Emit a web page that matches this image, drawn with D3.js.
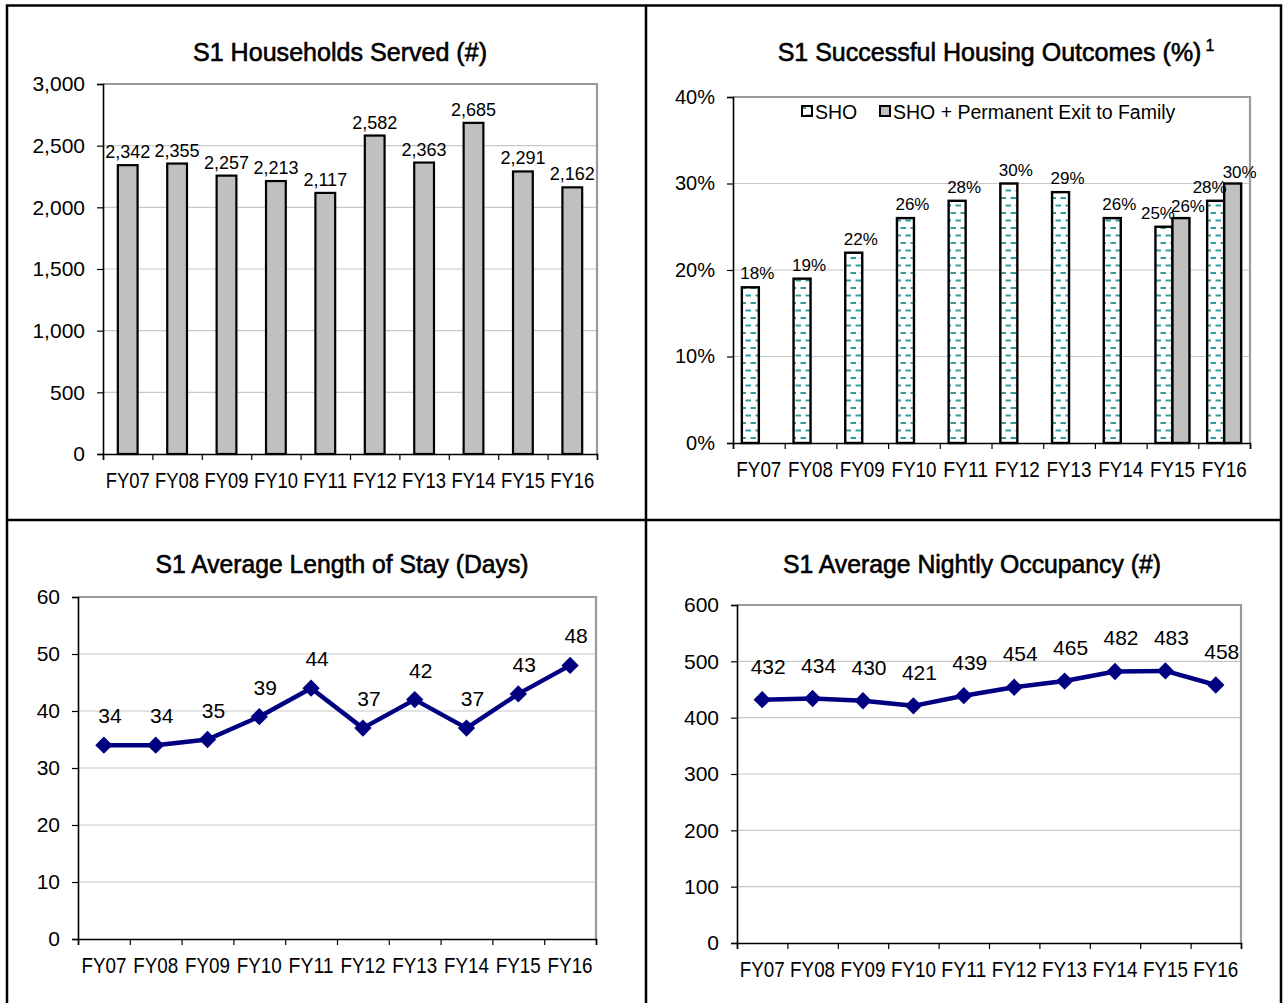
<!DOCTYPE html>
<html><head><meta charset="utf-8">
<script src="https://cdn.jsdelivr.net/npm/d3@7"></script>
<style>
body{margin:0;background:#fff;}
svg{display:block;}
.title{font-family:"Liberation Sans",sans-serif;font-size:25px;fill:#000;stroke:#000;stroke-width:0.6px;}
.tick text{font-family:"Liberation Sans",sans-serif;}
</style></head>
<body>
<svg id="c" width="1283" height="1003"></svg>
<script>
const years = ["FY07","FY08","FY09","FY10","FY11","FY12","FY13","FY14","FY15","FY16"];
const householdsServed = [2342,2355,2257,2213,2117,2582,2363,2685,2291,2162];
const shoPct = [18,19,22,26,28,30,29,26,25,28];
const shoFamilyPct = [null,null,null,null,null,null,null,null,26,30];
const lengthOfStay = [34,34,35,39,44,37,42,37,43,48];
const nightlyOccupancy = [432,434,430,421,439,454,465,482,483,458];
const householdTicks = [0,500,1000,1500,2000,2500,3000];
const pctTicks = [0,10,20,30,40];
const losTicks = [0,10,20,30,40,50,60];
const occTicks = [0,100,200,300,400,500,600];
const titles = ["S1 Households Served (#)","S1 Successful Housing Outcomes (%)","S1 Average Length of Stay (Days)","S1 Average Nightly Occupancy (#)"];
const footnoteMark = "1";
const legendLabels = ["SHO","SHO + Permanent Exit to Family"];

const svg = d3.select("#c");
const fmt = d3.format(",");
const TEAL = "#359c9c";
const LF = "'Liberation Sans',sans-serif";

// staggered dash pattern
const defs = svg.append("defs");
const pat = defs.append("pattern").attr("id","dash").attr("patternUnits","userSpaceOnUse")
  .attr("width",10).attr("height",15);
pat.append("rect").attr("width",10).attr("height",15).attr("fill","#fff");
pat.append("rect").attr("x",0.5).attr("y",2).attr("width",5.5).attr("height",2).attr("fill",TEAL);
pat.append("rect").attr("x",5.5).attr("y",9.5).attr("width",4.5).attr("height",2).attr("fill",TEAL);
pat.append("rect").attr("x",0).attr("y",9.5).attr("width",1).attr("height",2).attr("fill",TEAL);

// panel borders
const B = svg.append("g").attr("fill","none").attr("stroke","#000").attr("stroke-width",2.5);
B.append("rect").attr("x",7).attr("y",5.5).attr("width",1274).attr("height",1010);
B.append("line").attr("x1",646).attr("x2",646).attr("y1",5).attr("y2",1003);
B.append("line").attr("x1",7).attr("x2",1281).attr("y1",520).attr("y2",520);

function addTitle(g, x, y, str, len) {
  return g.append("text").attr("class","title").attr("x",x).attr("y",y).attr("text-anchor","middle")
    .attr("textLength",len).attr("lengthAdjust","spacingAndGlyphs").text(str);
}

function frame(g, x0, x1, y0, y1, y, ticks, tickFmt, tickSize) {
  g.append("g").selectAll("line").data(ticks.filter(t=>t!==ticks[0] && t!==ticks[ticks.length-1])).join("line")
    .attr("x1",x0).attr("x2",x1).attr("y1",d=>y(d)).attr("y2",d=>y(d))
    .attr("stroke","#c8c8c8").attr("stroke-width",1.2);
  g.append("path").attr("d",`M${x0},${y1}H${x1}V${y0}`).attr("fill","none").attr("stroke","#9a9a9a").attr("stroke-width",2.2);
  const ya = g.append("g").attr("transform",`translate(${x0},0)`)
    .call(d3.axisLeft(y).tickValues(ticks).tickFormat(tickFmt).tickSize(6).tickPadding(12));
  ya.select(".domain").attr("stroke","#000").attr("stroke-width",1.6);
  ya.selectAll(".tick line").attr("stroke","#000").attr("stroke-width",1.2);
  ya.selectAll(".tick text").attr("font-size",tickSize).attr("fill","#000");
}

function xAxis(g, x0, x1, y0, n, labels, labelY, len) {
  const xb = d3.scaleLinear().domain([0,n]).range([x0,x1]);
  const xa = g.append("g").attr("transform",`translate(0,${y0})`)
    .call(d3.axisBottom(xb).tickValues(d3.range(n+1)).tickFormat("").tickSize(6));
  xa.select(".domain").attr("stroke","#000").attr("stroke-width",1.6);
  xa.selectAll(".tick line").attr("stroke","#000").attr("stroke-width",1.2);
  g.append("g").selectAll("text").data(labels).join("text")
    .attr("x",(d,i)=>xb(i+0.5)).attr("y",labelY).attr("text-anchor","middle")
    .attr("font-family",LF).attr("font-size",22)
    .attr("textLength",len).attr("lengthAdjust","spacingAndGlyphs")
    .attr("fill","#000").text(d=>d);
}

// ---------- Chart 1 ----------
{
  const g = svg.append("g");
  const x0=103,x1=597,y0=454,y1=84;
  const y = d3.scaleLinear().domain([0,3000]).range([y0,y1]);
  const x = d3.scaleBand().domain(years).range([x0,x1]).paddingInner(0.6).paddingOuter(0.3);
  frame(g,x0,x1,y0,y1,y,householdTicks,fmt,21);
  addTitle(g,340,61,titles[0],294);
  g.append("g").selectAll("rect").data(householdsServed).join("rect")
    .attr("x",(d,i)=>x(years[i])).attr("width",x.bandwidth())
    .attr("y",d=>y(d)).attr("height",d=>y0-y(d))
    .attr("fill","#c0c0c0").attr("stroke","#000").attr("stroke-width",2.2);
  g.append("g").selectAll("text").data(householdsServed).join("text")
    .attr("x",(d,i)=>x(years[i])+x.bandwidth()/2).attr("y",d=>y(d)-7)
    .attr("text-anchor","middle").attr("font-family",LF).attr("font-size",18)
    .text(d=>fmt(d));
  xAxis(g,x0,x1,y0,10,years,488,44);
}

// ---------- Chart 2 ----------
{
  const g = svg.append("g");
  const x0=733,x1=1250,y0=443,y1=97;
  const y = d3.scaleLinear().domain([0,40]).range([y0,y1]);
  const x = d3.scaleBand().domain(years).range([x0,x1]);
  const xs = d3.scaleBand().domain([0,1]).range([0,x.bandwidth()]).paddingInner(0).paddingOuter(0.52);
  frame(g,x0,x1,y0,y1,y,pctTicks,d=>d+"%",20);
  const tt = g.append("text").attr("class","title").attr("x",996).attr("y",61).attr("text-anchor","middle");
  tt.append("tspan").text(titles[1]);
  tt.append("tspan").attr("dx",4).attr("dy",-10).attr("font-size",16).attr("stroke-width",0.4).text(footnoteMark);
  // legend
  const lg = g.append("g").attr("font-family",LF).attr("font-size",19.5);
  lg.append("rect").attr("x",802).attr("y",106).attr("width",10).attr("height",10).attr("fill","url(#dash)").attr("stroke","#000").attr("stroke-width",2);
  lg.append("text").attr("x",815).attr("y",119).text(legendLabels[0]);
  lg.append("rect").attr("x",880).attr("y",106).attr("width",10).attr("height",10).attr("fill","#c0c0c0").attr("stroke","#000").attr("stroke-width",2);
  lg.append("text").attr("x",893).attr("y",119).text(legendLabels[1]);
  g.append("g").selectAll("rect").data(shoPct).join("rect")
    .attr("x",(d,i)=>x(years[i])+xs(0)).attr("width",xs.bandwidth())
    .attr("y",d=>y(d)).attr("height",d=>y0-y(d))
    .attr("fill","url(#dash)").attr("stroke","#000").attr("stroke-width",2.4);
  const fam = shoFamilyPct.map((v,i)=>({v,i})).filter(d=>d.v!=null);
  g.append("g").selectAll("rect").data(fam).join("rect")
    .attr("x",d=>x(years[d.i])+xs(1)).attr("width",xs.bandwidth())
    .attr("y",d=>y(d.v)).attr("height",d=>y0-y(d.v))
    .attr("fill","#c0c0c0").attr("stroke","#000").attr("stroke-width",2.4);
  g.append("g").selectAll("text").data(shoPct).join("text")
    .attr("x",(d,i)=>x(years[i])+xs(0)+xs.bandwidth()/2 + (shoFamilyPct[i]==null?7:-6))
    .attr("y",d=>y(d)-8).attr("text-anchor","middle").attr("font-family",LF).attr("font-size",17)
    .text(d=>d+"%");
  g.append("g").selectAll("text").data(fam).join("text")
    .attr("x",d=>x(years[d.i])+xs(1)+xs.bandwidth()/2+7)
    .attr("y",d=>y(d.v)-6).attr("text-anchor","middle").attr("font-family",LF).attr("font-size",17)
    .text(d=>d.v+"%");
  xAxis(g,x0,x1,y0,10,years,477,45);
}

function lineChart(x0,x1,y0,y1,data,ticks,max,title,titleX,titleY,titleLen,labelY,labelOff) {
  const g = svg.append("g");
  const y = d3.scaleLinear().domain([0,max]).range([y0,y1]);
  const x = d3.scalePoint().domain(years).range([x0,x1]).padding(0.5);
  frame(g,x0,x1,y0,y1,y,ticks,d=>d,21);
  addTitle(g,titleX,titleY,title,titleLen);
  xAxis(g,x0,x1,y0,10,years,labelY,45);
  const line = d3.line().x((d,i)=>x(years[i])).y(d=>y(d));
  g.append("path").datum(data).attr("d",line).attr("fill","none").attr("stroke","#000080").attr("stroke-width",4.5).attr("stroke-linejoin","round");
  g.append("g").selectAll("path").data(data).join("path")
    .attr("d",d3.symbol(d3.symbolSquare,150)())
    .attr("transform",(d,i)=>`translate(${x(years[i])},${y(d)}) rotate(45)`)
    .attr("fill","#000080");
  g.append("g").selectAll("text").data(data).join("text")
    .attr("x",(d,i)=>x(years[i])+6).attr("y",d=>y(d)-labelOff).attr("text-anchor","middle")
    .attr("font-family",LF).attr("font-size",21).text(d=>d);
}
lineChart(78,596,939,597,lengthOfStay,losTicks,60,titles[2],342,573,373,973,22);
lineChart(737,1241,943,605,nightlyOccupancy,occTicks,600,titles[3],972,573,378,977,26);
</script>
</body></html>
